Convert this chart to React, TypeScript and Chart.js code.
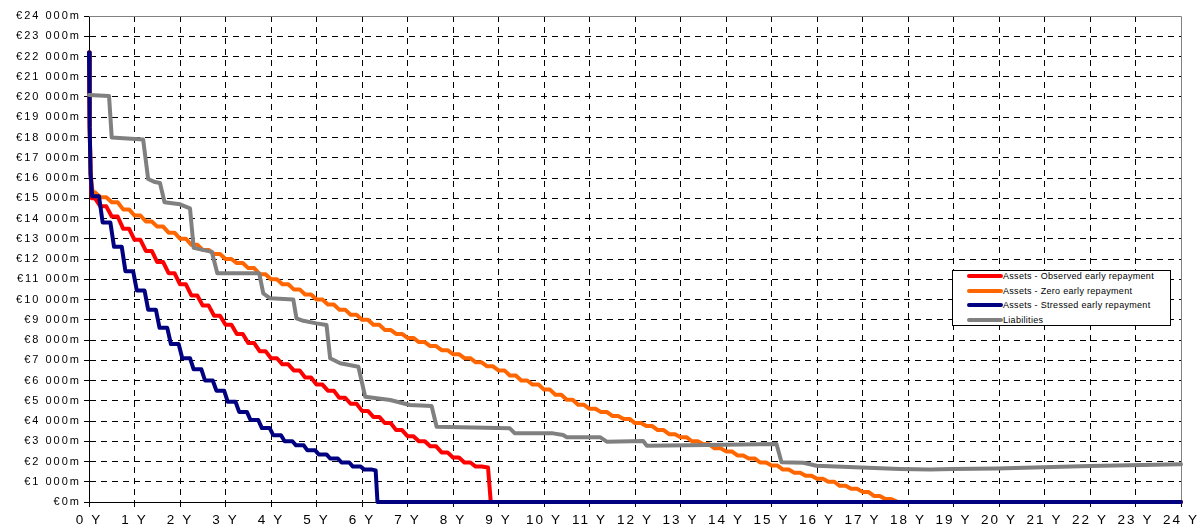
import React, { useEffect, useRef } from "react";
import { Chart, registerables } from "chart.js";

Chart.register(...registerables);

// ---- data (values in € millions, time in years) ----
const X_TICKS = [0, 1, 2, 3, 4, 5, 6, 7, 8, 9, 10, 11, 12, 13, 14, 15, 16, 17, 18, 19, 20, 21, 22, 23, 24];
const SERIES_NAMES = [
  "Assets - Observed early repayment",
  "Assets - Zero early repayment",
  "Assets - Stressed early repayment",
  "Liabilities",
];
const SERIES_COLORS = ["#FF0000", "#FF6600", "#000080", "#808080"];

// common start of the asset portfolio (first month run-off)
const START_T = [0, 0.015, 0.035];
const START_V = [22200, 18500, 16200];

// quarterly outstanding levels
const OBSERVED_LEVELS = [
  15000, 14600, 14100, 13500, 12950, 12400, 11850, 11300, 10750, 10200,
  9700, 9200, 8750, 8300, 7850, 7450, 7100, 6800, 6500, 6150,
  5800, 5500, 5150, 4850, 4500, 4200, 3900, 3550, 3250, 3000,
  2750, 2450, 2200, 1950, 1750,
];
const OBSERVED_TAIL_T = [8.77, 8.83, 24];
const OBSERVED_TAIL_V = [1700, 0, 0];

const ZERO_LEVELS = [
  15300, 15050, 14800, 14450, 14150, 13850, 13600, 13300, 13000, 12700,
  12450, 12250, 12000, 11800, 11550, 11250, 11000, 10750, 10500, 10250,
  10000, 9750, 9500, 9250, 9000, 8750, 8500, 8300, 8100, 7900,
  7700, 7500, 7300, 7100, 6900, 6700, 6500, 6250, 6000, 5800,
  5550, 5300, 5050, 4800, 4600, 4450, 4250, 4100, 3900, 3750,
  3550, 3350, 3200, 3000, 2850, 2650, 2500, 2300, 2150, 1950,
  1800, 1600, 1450, 1300, 1150, 1000, 800, 650, 500, 300,
  150,
];
const ZERO_TAIL_T = [17.78, 24];
const ZERO_TAIL_V = [0, 0];

const STRESSED_LEVELS = [
  15100, 13800, 12600, 11400, 10450, 9500, 8600, 7800, 7100, 6550,
  6000, 5500, 4950, 4450, 4050, 3650, 3300, 3000, 2800, 2550,
  2350, 2150, 1950, 1750, 1600,
];
const STRESSED_TAIL_T = [6.3, 6.34, 24];
const STRESSED_TAIL_V = [1560, 0, 0];

const LIAB_T = [
  0, 0.44, 0.5, 1.19, 1.3, 1.45, 1.56, 1.66, 2.0, 2.22,
  2.3, 2.7, 2.82, 3.74, 3.83, 3.98, 4.49, 4.56, 4.71, 5.0,
  5.22, 5.3, 5.52, 5.92, 6.07, 6.62, 7.05, 7.53, 7.64, 9.25,
  9.36, 10.2, 10.42, 10.5, 11.23, 11.38, 12.18, 12.26, 13.58, 15.11,
  15.22, 15.7, 15.99, 17.82, 18.48, 18.99, 19.95, 22.0, 24,
];
const LIAB_V = [
  20100, 20050, 18000, 17900, 15950, 15800, 15750, 14800, 14700, 14500,
  12550, 12350, 11300, 11300, 10300, 10060, 10000, 9070, 8950, 8820,
  8740, 7100, 6850, 6680, 5200, 5040, 4790, 4740, 3720, 3640,
  3390, 3390, 3310, 3200, 3200, 2980, 3010, 2780, 2810, 2860,
  1960, 1940, 1790, 1630, 1600, 1630, 1660, 1780, 1860,
];

type P = { x: number; y: number };

function pairs(ts: number[], vs: number[]): P[] {
  return ts.map((t, i) => ({ x: t, y: vs[i] }));
}

// quarterly staircase: each level holds, then runs off to the next quarter's level
function assetPath(levels: number[], firstT: number, offset: number, hold: number, tailT: number[], tailV: number[]): P[] {
  const pts: P[] = pairs(START_T, START_V);
  levels.forEach((v, q) => {
    const t0 = q === 0 ? firstT : q * 0.25 + offset;
    pts.push({ x: t0, y: v });
    pts.push({ x: Math.max(t0 + 0.01, q * 0.25 + offset + hold), y: v });
  });
  return pts.concat(pairs(tailT, tailV));
}

function yLabel(v: number): string {
  return v === 0 ? "€0m" : "€" + v / 1000 + " 000m";
}

const FONT = "'Liberation Sans', Arial, sans-serif";

export default function App() {
  const ref = useRef<HTMLCanvasElement | null>(null);

  useEffect(() => {
    document.body.style.margin = "0";
    const canvas = ref.current;
    if (!canvas) return;

    const framePlugin = {
      id: "frame",
      beforeDraw(chart: any) {
        chart.ctx.letterSpacing = "2px";
      },
      beforeDatasetsDraw(chart: any) {
        const { ctx, chartArea } = chart;
        ctx.save();
        ctx.strokeStyle = "#808080";
        ctx.lineWidth = 1;
        ctx.setLineDash([]);
        ctx.beginPath();
        ctx.moveTo(chartArea.left, Math.round(chartArea.top) + 0.5);
        ctx.lineTo(chartArea.right + 0.5, Math.round(chartArea.top) + 0.5);
        ctx.lineTo(chartArea.right + 0.5, chartArea.bottom);
        ctx.stroke();
        ctx.restore();
      },
      afterDraw(chart: any) {
        chart.ctx.letterSpacing = "0px";
      },
    };

    const ds = (i: number, data: P[], order: number) => ({
      label: SERIES_NAMES[i],
      data,
      borderColor: SERIES_COLORS[i],
      backgroundColor: SERIES_COLORS[i],
      borderWidth: 4,
      pointRadius: 0,
      tension: 0,
      borderJoinStyle: "round" as const,
      borderCapStyle: "round" as const,
      clip: false as const,
      order,
      parsing: false as const,
    });

    const chart = new Chart(canvas, {
      type: "line",
      data: {
        datasets: [
          ds(0, assetPath(OBSERVED_LEVELS, 0.06, 0, 0.13, OBSERVED_TAIL_T, OBSERVED_TAIL_V), 3),
          ds(1, assetPath(ZERO_LEVELS, 0.08, 0, 0.13, ZERO_TAIL_T, ZERO_TAIL_V), 2),
          ds(2, assetPath(STRESSED_LEVELS, 0.07, 0.05, 0.17, STRESSED_TAIL_T, STRESSED_TAIL_V), 1),
          ds(3, pairs(LIAB_T, LIAB_V), 0),
        ] as any,
      },
      plugins: [framePlugin],
      options: {
        animation: false,
        responsive: false,
        maintainAspectRatio: false,
        layout: { padding: { top: 16, right: 19, left: 0, bottom: 0 } },
        plugins: { legend: { display: false }, tooltip: { enabled: false } },
        scales: {
          x: {
            type: "linear",
            min: 0,
            max: 24,
            afterBuildTicks: (s: any) => {
              s.ticks = X_TICKS.map((v) => ({ value: v }));
            },
            afterFit: (s: any) => {
              s.height = 24;
            },
            ticks: {
              autoSkip: false,
              maxRotation: 0,
              padding: 5,
              color: "#000",
              font: { family: FONT, size: 13.5 },
              callback: (v: any) => v + " Y",
            },
            grid: {
              color: (c: any) => (c.tick && c.tick.value === 24 ? "transparent" : "#000"),
              lineWidth: 1,
              tickLength: 5,
              tickColor: "#000",
              tickWidth: 1,
            },
            border: { display: true, color: "#000", width: 1, dash: [6, 5] },
          },
          y: {
            type: "linear",
            min: 0,
            max: 24000,
            afterFit: (s: any) => {
              s.width = 89;
            },
            ticks: {
              stepSize: 1000,
              padding: 3,
              color: "#000",
              font: { family: FONT, size: 11 },
              callback: (v: any) => yLabel(Number(v)),
            },
            grid: {
              color: (c: any) => (c.tick && c.tick.value === 24000 ? "transparent" : "#000"),
              lineWidth: 1,
              tickLength: 5,
              tickColor: "#000",
              tickWidth: 1,
            },
            border: { display: true, color: "#000", width: 1, dash: [6, 5] },
          },
        },
      } as any,
    });
    return () => chart.destroy();
  }, []);

  const rowTops = [276, 291, 305, 320];

  return (
    <div style={{ position: "fixed", left: 0, top: 0, width: 1200, height: 526, background: "#fff", overflow: "hidden" }}>
      <canvas ref={ref} width={1200} height={526} style={{ width: 1200, height: 526, display: "block" }} />
      <div
        style={{
          position: "absolute",
          left: 952,
          top: 270,
          width: 219,
          height: 56,
          border: "1px solid #000",
          background: "#fff",
          boxSizing: "border-box",
        }}
      />
      {SERIES_NAMES.map((name, i) => (
        <div key={name} style={{ position: "absolute", left: 967, top: rowTops[i] - 6, height: 12, display: "flex", alignItems: "center" }}>
          <div style={{ width: 36, height: 4, background: SERIES_COLORS[i], borderRadius: 2 }} />
          <span style={{ fontFamily: FONT, fontSize: 9, letterSpacing: "0.3px", color: "#000", whiteSpace: "nowrap", lineHeight: "12px" }}>{name}</span>
        </div>
      ))}
    </div>
  );
}
